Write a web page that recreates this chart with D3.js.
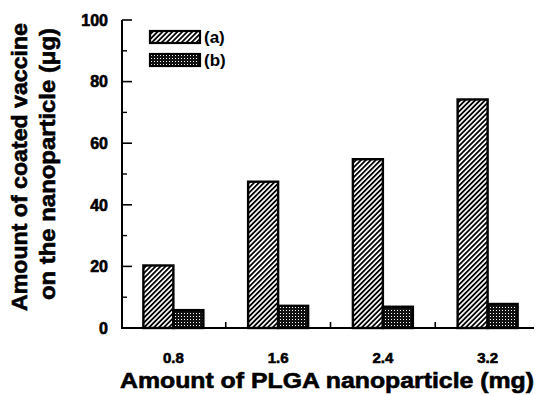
<!DOCTYPE html>
<html>
<head>
<meta charset="utf-8">
<script src="https://d3js.org/d3.v7.min.js"></script>
<style>
  body { margin: 0; background: #fff; }
  text { font-family: Arial, "Liberation Sans", Helvetica, sans-serif; fill: #000; }
  .heavy { stroke: #000; stroke-width: 0.6px; }
</style>
</head>
<body>
<script>
// data
var amounts = ["0.8", "1.6", "2.4", "3.2"];
var seriesA = [20.3, 47.5, 54.8, 74.2];
var seriesB = [5.8, 7.2, 6.9, 7.8];
var seriesNames = ["(a)", "(b)"];
var yTicks = [0, 20, 40, 60, 80, 100];

var W = 540, H = 395;
var svg = d3.select("body").append("svg")
  .attr("width", W).attr("height", H);

// fill patterns
var defs = svg.append("defs");
var hatch = defs.append("pattern")
  .attr("id", "hatch")
  .attr("patternUnits", "userSpaceOnUse")
  .attr("width", 3.5).attr("height", 3.5)
  .attr("patternTransform", "rotate(45)");
hatch.append("rect").attr("width", 3.5).attr("height", 3.5).attr("fill", "#fff");
hatch.append("line").attr("x1", 0.9).attr("y1", 0).attr("x2", 0.9).attr("y2", 3.5)
  .attr("stroke", "#000").attr("stroke-width", 1.8);

var dots = defs.append("pattern")
  .attr("id", "dots")
  .attr("patternUnits", "userSpaceOnUse")
  .attr("width", 3).attr("height", 3);
dots.append("rect").attr("width", 3).attr("height", 3).attr("fill", "#111");
dots.append("rect").attr("x", 1).attr("y", 1).attr("width", 1).attr("height", 1).attr("fill", "#fff");

var x = d3.scaleBand().domain(amounts).range([121, 540]).padding(0);
var y = d3.scaleLinear().domain([0, 100]).range([328, 20]);
var barW = 30;

var rows = amounts.map(function (d, i) { return { amt: d, a: seriesA[i], b: seriesB[i] }; });

// bars
var g = svg.append("g");
g.selectAll(".barA").data(rows).enter().append("rect")
  .attr("x", function (d) { return x(d.amt) + x.bandwidth() / 2 - barW; })
  .attr("y", function (d) { return y(d.a); })
  .attr("width", barW)
  .attr("height", function (d) { return y(0) - y(d.a); })
  .attr("fill", "url(#hatch)")
  .attr("stroke", "#000").attr("stroke-width", 2.4);

g.selectAll(".barB").data(rows).enter().append("rect")
  .attr("x", function (d) { return x(d.amt) + x.bandwidth() / 2; })
  .attr("y", function (d) { return y(d.b); })
  .attr("width", barW)
  .attr("height", function (d) { return y(0) - y(d.b); })
  .attr("fill", "url(#dots)")
  .attr("stroke", "#000").attr("stroke-width", 2.4);

// y axis: line, inward ticks, labels
var yAxis = svg.append("g").attr("transform", "translate(122,0)");
yAxis.append("line").attr("x1", 0).attr("x2", 0).attr("y1", y(100)).attr("y2", y(0))
  .attr("stroke", "#000").attr("stroke-width", 2);
var minor = d3.range(10, 100, 20);
yAxis.selectAll(".maj").data(yTicks).enter().append("line")
  .attr("x1", 0).attr("x2", 10)
  .attr("y1", function (d) { return y(d); }).attr("y2", function (d) { return y(d); })
  .attr("stroke", "#000").attr("stroke-width", 1.6);
yAxis.selectAll(".min").data(minor).enter().append("line")
  .attr("x1", 0).attr("x2", 5)
  .attr("y1", function (d) { return y(d); }).attr("y2", function (d) { return y(d); })
  .attr("stroke", "#000").attr("stroke-width", 1.4);
yAxis.selectAll("text").data(yTicks).enter().append("text")
  .attr("class", "heavy")
  .attr("x", -14).attr("y", function (d) { return y(d); })
  .attr("dy", "0.36em")
  .attr("text-anchor", "end")
  .style("font-size", "16px").style("font-weight", "bold")
  .text(function (d) { return d; });

// x axis: baseline, boundary ticks, labels
var xAxis = svg.append("g");
xAxis.append("line").attr("x1", 121).attr("x2", 534).attr("y1", y(0)).attr("y2", y(0))
  .attr("stroke", "#000").attr("stroke-width", 2);
xAxis.selectAll(".tk").data(amounts.slice(1)).enter().append("line")
  .attr("x1", function (d) { return x(d); }).attr("x2", function (d) { return x(d); })
  .attr("y1", y(0)).attr("y2", y(0) - 6)
  .attr("stroke", "#000").attr("stroke-width", 1.6);
xAxis.selectAll("text").data(amounts).enter().append("text")
  .attr("class", "heavy")
  .attr("x", function (d) { return x(d) + x.bandwidth() / 2; })
  .attr("y", 363)
  .attr("text-anchor", "middle")
  .style("font-size", "15px").style("font-weight", "bold")
  .text(function (d) { return d; });

// axis titles
svg.append("text")
  .attr("class", "heavy")
  .attr("x", 327).attr("y", 388)
  .attr("text-anchor", "middle")
  .attr("textLength", 414).attr("lengthAdjust", "spacingAndGlyphs")
  .style("font-size", "22px").style("font-weight", "bold")
  .text("Amount of PLGA nanoparticle (mg)");

svg.append("text")
  .attr("class", "heavy")
  .attr("transform", "translate(27,167) rotate(-90)")
  .attr("text-anchor", "middle")
  .attr("textLength", 288).attr("lengthAdjust", "spacingAndGlyphs")
  .style("font-size", "22px").style("font-weight", "bold")
  .text("Amount of coated vaccine");
svg.append("text")
  .attr("class", "heavy")
  .attr("transform", "translate(55,164) rotate(-90)")
  .attr("text-anchor", "middle")
  .attr("textLength", 272).attr("lengthAdjust", "spacingAndGlyphs")
  .style("font-size", "22px").style("font-weight", "bold")
  .text("on the nanoparticle (\u03bcg)");

// legend
var legend = svg.append("g");
var legFills = ["url(#hatch)", "url(#dots)"];
legend.selectAll("rect").data(seriesNames).enter().append("rect")
  .attr("x", 150).attr("y", function (d, i) { return 31 + i * 23; })
  .attr("width", 50).attr("height", 12)
  .attr("fill", function (d, i) { return legFills[i]; })
  .attr("stroke", "#000").attr("stroke-width", 2.2);
legend.selectAll("text").data(seriesNames).enter().append("text")
  .attr("x", 204).attr("y", function (d, i) { return 37 + i * 23; })
  .attr("dy", "0.36em")
  .style("font-size", "17px").style("font-weight", "bold")
  .text(function (d) { return d; });
</script>
</body>
</html>
